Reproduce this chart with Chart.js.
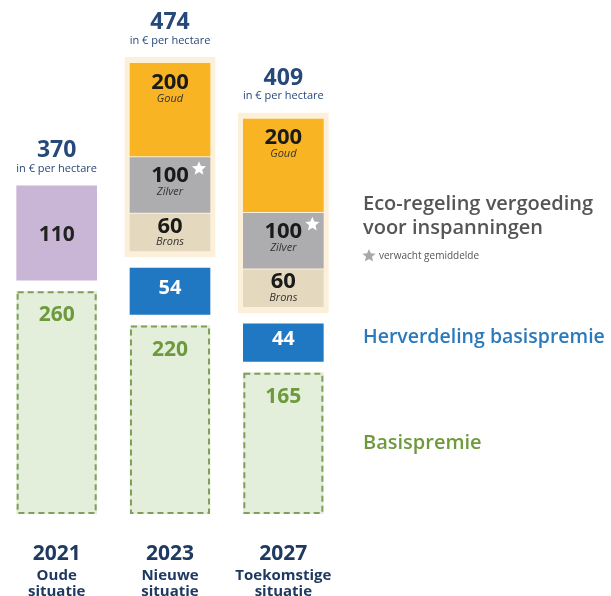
<!DOCTYPE html>
<html lang="nl">
<head>
    <meta charset="UTF-8">
    <title>Eco-regeling en basispremie</title>
    <script src="https://cdn.jsdelivr.net/npm/chart.js"></script>
    <style>
        body { margin: 0; background: #fff; }
        #wrap { width: 611px; height: 596px; }
    </style>
</head>
<body>
    <div id="wrap"><canvas id="premieChart"></canvas></div>
    <script>
        const years = ['2021', '2023', '2027'];
        const situations = [['Oude', 'situatie'], ['Nieuwe', 'situatie'], ['Toekomstige', 'situatie']];
        const totals = [370, 474, 409];
        const basispremie = [260, 220, 165];
        const herverdeling = [null, 54, 44];
        const vergroening = [110, null, null];
        const hasEco = [false, true, true];
        const ecoNames = ['Brons', 'Zilver', 'Goud'];
        const ecoValues = [60, 100, 200];
        // the eco levels are drawn as a schematic block, not to scale:
        // band heights in euro
        const ecoBands = [43, 64, 108];

        const FONT = '"Open Sans", sans-serif';
        const GAP = 13, PAD = 7, INNER = 2;

        // floating [from, to] ranges so the stacked parts can have gaps
        const green = [], blue = [], purple = [], halo = [], eco = [[], [], []];
        years.forEach((y, i) => {
            let v = basispremie[i];
            green.push([0, v]);
            v += GAP;
            if (herverdeling[i] != null) {
                blue.push([v, v + herverdeling[i]]);
                v += herverdeling[i] + GAP;
            } else blue.push(null);
            if (vergroening[i] != null) {
                purple.push([v, v + vergroening[i]]);
                v += vergroening[i] + GAP;
            } else purple.push(null);
            if (hasEco[i]) {
                const h = ecoBands.reduce((a, b) => a + b, 0) + INNER * (ecoBands.length - 1);
                halo.push([v, v + 2 * PAD + h]);
                let e = v + PAD;
                ecoBands.forEach((b, k) => {
                    eco[k].push([e, e + b]);
                    e += b + INNER;
                });
            } else {
                halo.push(null);
                eco.forEach(a => a.push(null));
            }
        });

        function star(ctx, x, y, r, color) {
            ctx.beginPath();
            for (let k = 0; k < 10; k++) {
                const rad = k % 2 ? r * 0.45 : r;
                const a = -Math.PI / 2 + k * Math.PI / 5;
                ctx.lineTo(x + rad * Math.cos(a), y + rad * Math.sin(a));
            }
            ctx.closePath();
            ctx.fillStyle = color;
            ctx.fill();
        }

        function text(ctx, str, x, y, font, color, align) {
            ctx.font = font;
            ctx.fillStyle = color;
            ctx.textAlign = align || 'center';
            ctx.textBaseline = 'middle';
            ctx.fillText(str, x, y);
        }

        const labelPlugin = {
            id: 'labels',
            afterDatasetsDraw(chart) {
                const ctx = chart.ctx;
                const ds = chart.data.datasets;
                const el = (d, i) => chart.getDatasetMeta(d).data[i];
                const has = (d, i) => ds[d].data[i] != null;
                ctx.save();

                years.forEach((yr, i) => {
                    // basispremie: dashed outline + label
                    const g = el(0, i);
                    ctx.setLineDash([6, 4]);
                    ctx.lineWidth = 2;
                    ctx.strokeStyle = '#809f5a';
                    ctx.strokeRect(g.x - g.width / 2 + 1, g.y + 1, g.width - 2, g.base - g.y - 2);
                    ctx.setLineDash([]);
                    text(ctx, basispremie[i], g.x, g.y + 24, '700 21px ' + FONT, '#6e9a3d');

                    if (has(1, i)) {
                        const b = el(1, i);
                        text(ctx, herverdeling[i], b.x, (b.y + b.base) / 2 - 3, '700 20px ' + FONT, '#ffffff');
                    }
                    if (has(2, i)) {
                        const p = el(2, i);
                        text(ctx, vergroening[i], p.x, (p.y + p.base) / 2 + 2, '700 21px ' + FONT, '#222222');
                    }
                    if (hasEco[i]) {
                        ecoNames.forEach((name, k) => {
                            const e = el(3 + k, i);
                            const h = e.base - e.y;
                            const ny = e.y + Math.min(19, h * 0.33);
                            text(ctx, ecoValues[k], e.x, ny, '700 22px ' + FONT, '#1a1a1a');
                            text(ctx, name, e.x, ny + 16, 'italic 400 11px ' + FONT, '#333333');
                            if (name === 'Zilver') star(ctx, e.x + e.width / 2 - 11, e.y + 11, 7.5, '#ffffff');
                        });
                    }

                    // total above the column
                    let top = Infinity;
                    ds.forEach((d, di) => { if (has(di, i)) top = Math.min(top, el(di, i).y); });
                    text(ctx, totals[i], g.x, top - 35, '700 23px ' + FONT, '#27497a');
                    text(ctx, 'in € per hectare', g.x, top - 17, '400 11px ' + FONT, '#27497a');

                    // category labels below
                    const bottom = chart.chartArea.bottom;
                    text(ctx, yr, g.x, bottom + 40, '700 21px ' + FONT, '#1f3a60');
                    text(ctx, situations[i][0], g.x, bottom + 62, '700 15px ' + FONT, '#1f3a60');
                    text(ctx, situations[i][1], g.x, bottom + 78, '700 15px ' + FONT, '#1f3a60');
                });

                // legend texts on the right, lined up with the last column
                const last = years.length - 1;
                const lx = 363;
                const hl = el(6, last), bl = el(1, last), gl = el(0, last);
                const ecoMid = (hl.y + hl.base) / 2;
                text(ctx, 'Eco-regeling vergoeding', lx, ecoMid - 9, '600 20px ' + FONT, '#555555', 'left');
                text(ctx, 'voor inspanningen', lx, ecoMid + 15, '600 20px ' + FONT, '#555555', 'left');
                star(ctx, lx + 6, ecoMid + 43, 7, '#a9a9a9');
                text(ctx, 'verwacht gemiddelde', lx + 16, ecoMid + 43, '400 10px ' + FONT, '#555555', 'left');
                text(ctx, 'Herverdeling basispremie', lx, (bl.y + bl.base) / 2 - 5, '600 19.5px ' + FONT, '#2a79bd', 'left');
                text(ctx, 'Basispremie', lx, (gl.y + gl.base) / 2, '600 20px ' + FONT, '#6f9a3c', 'left');

                ctx.restore();
            }
        };

        const common = { grouped: false, borderWidth: 0, barThickness: 80 };

        new Chart(document.getElementById('premieChart'), {
            type: 'bar',
            data: {
                labels: years,
                datasets: [
                    { ...common, label: 'Basispremie', data: green, backgroundColor: '#e3efda' },
                    { ...common, label: 'Herverdeling basispremie', data: blue, backgroundColor: '#1f78c1' },
                    { ...common, label: 'Vergroening', data: purple, backgroundColor: '#c9b6d6' },
                    { ...common, label: 'Brons', data: eco[0], backgroundColor: '#e4d9be' },
                    { ...common, label: 'Zilver', data: eco[1], backgroundColor: '#adadaf' },
                    { ...common, label: 'Goud', data: eco[2], backgroundColor: '#f9b423' },
                    { ...common, label: 'Eco-regeling', data: halo, backgroundColor: '#fdf0da', barThickness: 90, order: 10 }
                ]
            },
            options: {
                responsive: true,
                maintainAspectRatio: false,
                animation: false,
                layout: { padding: { left: 0, right: 271, top: 0, bottom: 82 } },
                plugins: { legend: { display: false }, tooltip: { enabled: false } },
                scales: {
                    x: { display: false },
                    y: { display: false, min: 0, max: 600 }
                }
            },
            plugins: [labelPlugin]
        });
    </script>
</body>
</html>
